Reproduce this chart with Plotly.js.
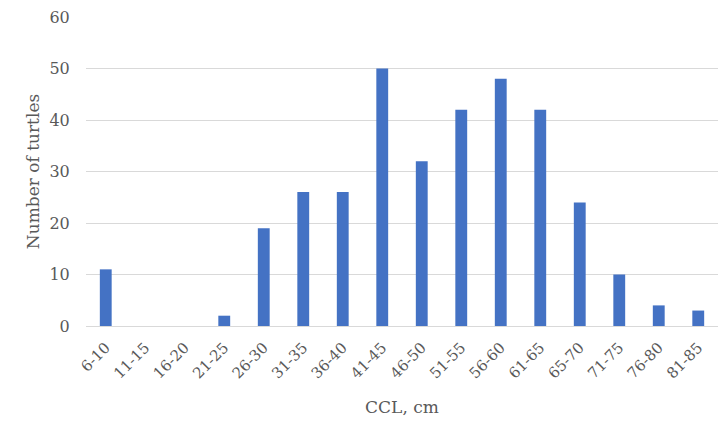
<!DOCTYPE html>
<html><head><meta charset="utf-8">
<script src="https://cdn.plot.ly/plotly-3.0.1.min.js"></script>
<style>html,body{margin:0;padding:0;background:#fff}</style>
</head><body>
<div id="chart" style="width:727px;height:429px"></div>
<script>
const categories = ["6-10","11-15","16-20","21-25","26-30","31-35","36-40","41-45","46-50","51-55","56-60","61-65","65-70","71-75","76-80","81-85"];
const turtles = [11,0,0,2,19,26,26,50,32,42,48,42,24,10,4,3];
const yTicks = [0,10,20,30,40,50,60];

Plotly.newPlot('chart', [{
  type: 'bar',
  x: categories,
  y: turtles,
  marker: {color: '#4472C4'},
  width: 0.3,
  hoverinfo: 'x+y'
}], {
  width: 727, height: 429,
  margin: {l: 86, r: 9, t: 17, b: 103},
  paper_bgcolor: '#fff', plot_bgcolor: '#fff',
  font: {family: 'DejaVu Serif, Liberation Serif, serif', color: '#595959', size: 15},
  showlegend: false,
  xaxis: {
    type: 'category',
    tickangle: -45,
    tickfont: {size: 15, color: '#595959'},
    showgrid: false,
    showline: true, linecolor: '#d9d9d9', linewidth: 1,
    ticks: 'outside', ticklen: 6, tickcolor: 'rgba(0,0,0,0)',
    title: {text: 'CCL, cm', font: {size: 17, color: '#595959'}, standoff: 19}
  },
  yaxis: {
    range: [0, 60],
    tickvals: yTicks,
    ticktext: yTicks.map(String),
    tickfont: {size: 16, color: '#595959'},
    showgrid: true, gridcolor: '#d9d9d9', gridwidth: 1,
    zeroline: false,
    ticks: 'outside', ticklen: 12, tickcolor: 'rgba(0,0,0,0)',
    title: {text: 'Number of turtles', font: {size: 17, color: '#595959'}, standoff: 5}
  }
}, {displayModeBar: false});
</script>
</body></html>
